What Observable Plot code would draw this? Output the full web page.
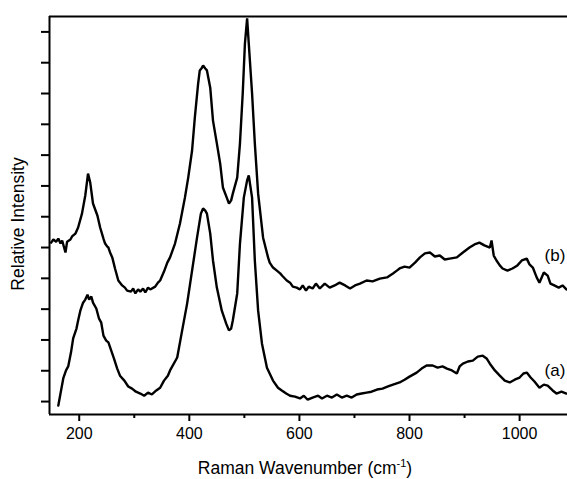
<!DOCTYPE html>
<html>
<head>
<meta charset="utf-8">
<script src="https://cdn.jsdelivr.net/npm/d3@7"></script>
<script src="https://cdn.jsdelivr.net/npm/@observablehq/plot@0.6"></script>
<style>
  html, body { margin: 0; padding: 0; background: #fff; }
  #chart svg { display: block; }
</style>
</head>
<body>
<div id="chart"></div>
<script>
// Raman wavenumber (cm^-1), relative intensity (arbitrary tick units)
const specA = [
  [162,-0.13],[166,0.26],[171,0.75],[176,1.01],[180,1.14],[185,1.59],[189,2.05],[195,2.37],[198,2.63],[202,2.95],
  [207,3.21],[211,3.31],[215,3.47],[218,3.31],[222,3.41],[225,3.21],[231,3.02],[236,2.69],[240,2.56],[244,2.14],
  [249,1.98],[253,1.92],[258,1.66],[263,1.40],[269,1.07],[274,0.84],[282,0.68],[289,0.49],[296,0.42],[303,0.32],
  [311,0.26],[318,0.19],[325,0.29],[332,0.23],[340,0.36],[347,0.45],[354,0.68],[361,0.84],[365,1.01],[378,1.43],
  [387,2.31],[396,3.18],[405,4.25],[414,5.32],[421,6.10],[425,6.27],[429,6.20],[432,6.10],[438,5.45],[443,4.58],
  [450,3.70],[459,2.95],[467,2.53],[472,2.31],[476,2.37],[479,2.63],[487,3.51],[492,5.13],[499,6.62],[505,7.18],
  [508,7.34],[514,6.62],[519,4.58],[525,2.95],[532,1.88],[541,1.10],[552,0.68],[561,0.45],[568,0.36],[576,0.26],
  [583,0.19],[592,0.16],[601,0.10],[608,0.19],[615,0.06],[624,0.13],[634,0.19],[641,0.10],[650,0.19],[659,0.13],
  [668,0.23],[677,0.13],[686,0.19],[695,0.13],[704,0.23],[713,0.26],[722,0.29],[731,0.32],[741,0.39],[751,0.42],
  [761,0.49],[770,0.55],[782,0.62],[791,0.71],[800,0.81],[813,0.94],[822,1.07],[831,1.17],[842,1.17],[851,1.10],
  [860,1.14],[868,1.07],[877,1.01],[886,0.91],[891,1.14],[897,1.23],[906,1.30],[915,1.33],[924,1.46],[933,1.49],
  [940,1.40],[946,1.23],[955,1.01],[964,0.84],[973,0.68],[982,0.62],[991,0.71],[1000,0.78],[1007,0.91],[1013,0.94],
  [1020,0.78],[1027,0.65],[1036,0.45],[1044,0.55],[1051,0.52],[1060,0.36],[1067,0.26],[1076,0.32],[1085,0.26]
];
const specB = [
  [149,5.16],[153,5.26],[158,5.19],[162,5.29],[166,5.13],[169,5.23],[175,4.84],[178,5.19],[184,5.26],[187,5.36],
  [193,5.45],[198,5.65],[205,6.10],[211,6.69],[216,7.40],[220,7.11],[225,6.43],[233,6.04],[238,5.65],[244,5.29],
  [247,5.13],[251,5.03],[253,5.00],[256,4.84],[260,4.68],[265,4.32],[271,3.93],[278,3.77],[283,3.70],[287,3.60],
  [294,3.57],[298,3.67],[302,3.51],[307,3.64],[311,3.57],[316,3.67],[320,3.54],[325,3.70],[329,3.64],[338,3.73],
  [343,3.86],[347,3.93],[354,4.22],[360,4.51],[365,4.68],[374,5.13],[383,5.78],[392,6.62],[398,7.27],[405,8.15],
  [410,9.22],[416,10.32],[419,10.75],[423,10.84],[425,10.91],[429,10.81],[432,10.75],[438,10.19],[443,9.12],[450,8.38],
  [456,7.73],[461,6.95],[468,6.62],[472,6.43],[476,6.53],[479,6.75],[487,7.27],[492,8.38],[497,10.0],[501,11.62],
  [505,12.44],[508,11.62],[514,10.0],[519,8.38],[525,6.75],[534,5.32],[543,4.68],[546,4.51],[552,4.35],[559,4.25],
  [565,4.16],[570,4.06],[577,3.93],[583,3.86],[588,3.73],[595,3.70],[601,3.64],[606,3.77],[612,3.60],[617,3.73],
  [624,3.67],[630,3.83],[637,3.67],[646,3.83],[655,3.70],[664,3.77],[673,3.86],[683,3.77],[692,3.67],[701,3.77],
  [710,3.83],[722,3.93],[733,3.90],[746,3.99],[759,4.03],[770,4.16],[777,4.25],[782,4.32],[791,4.38],[800,4.35],
  [810,4.51],[819,4.68],[828,4.81],[837,4.84],[846,4.71],[855,4.74],[864,4.61],[873,4.64],[886,4.68],[897,4.84],
  [909,5.0],[918,5.10],[927,5.16],[936,5.07],[946,5.0],[949,5.23],[953,4.74],[958,4.58],[964,4.42],[969,4.32],
  [978,4.25],[987,4.32],[996,4.42],[1004,4.58],[1013,4.64],[1018,4.45],[1024,4.35],[1031,4.03],[1036,3.86],[1044,4.19],
  [1051,4.09],[1056,3.83],[1063,3.77],[1071,3.70],[1078,3.77],[1085,3.64]
];
const seriesLabels = ["(a)", "(b)"];
const labelPos = [[1083, 1.0], [1083, 4.74]];
const xDomain = [146, 1087];
const yDomain = [-0.42, 12.5];
const xMajorTicks = [200, 400, 600, 800, 1000];
const xMinorTicks = [300, 500, 700, 900];
const yTicks = [0,1,2,3,4,5,6,7,8,9,10,11,12];
const xLabel = "Raman Wavenumber (cm";
const xLabelSup = "-1";
const yLabel = "Relative Intensity";

const toRows = (arr) => arr.map(([wn, v]) => ({wn, v}));
const labelRows = seriesLabels.map((t, i) => ({t, wn: labelPos[i][0], v: labelPos[i][1]}));

const font = "'Liberation Sans', Arial, sans-serif";
const plot = Plot.plot({
  width: 567,
  height: 479,
  marginLeft: 49,
  marginRight: 0,
  marginTop: 16,
  marginBottom: 65,
  style: {fontFamily: font, fontSize: "15px", color: "#000", background: "#fff"},
  x: {domain: xDomain},
  y: {domain: yDomain},
  marks: [
    Plot.axisY({ticks: yTicks, tickSize: 8, tickFormat: () => "", label: null, strokeWidth: 2}),
    Plot.axisX({ticks: xMajorTicks, tickSize: 7, tickPadding: 6, tickFormat: d3.format("d"), label: null, strokeWidth: 2, fontSize: 16}),
    Plot.axisX({ticks: xMinorTicks, tickSize: 4, tickFormat: () => "", label: null, strokeWidth: 2}),
    Plot.ruleX([xDomain[0]], {stroke: "black", strokeWidth: 2}),
    Plot.ruleY([yDomain[0]], {stroke: "black", strokeWidth: 2}),
    Plot.ruleY([yDomain[1]], {stroke: "black", strokeWidth: 2}),
    Plot.line(toRows(specA), {x: "wn", y: "v", stroke: "black", strokeWidth: 2.4, strokeLinejoin: "miter"}),
    Plot.line(toRows(specB), {x: "wn", y: "v", stroke: "black", strokeWidth: 2.4, strokeLinejoin: "miter"}),
    Plot.text(labelRows, {x: "wn", y: "v", text: "t", textAnchor: "end", fontSize: 17, fill: "black"})
  ]
});

const svg = d3.select(plot);
const xl = svg.append("text")
  .attr("x", 305).attr("y", 474)
  .attr("text-anchor", "middle")
  .attr("font-family", font).attr("font-size", 17.5).attr("fill", "black");
xl.append("tspan").text(xLabel);
xl.append("tspan").attr("dy", -7).attr("font-size", 11).text(xLabelSup);
xl.append("tspan").attr("dy", 7).text(")");

svg.append("text")
  .attr("transform", "translate(24,224) rotate(-90)")
  .attr("text-anchor", "middle")
  .attr("font-family", font).attr("font-size", 17.5).attr("fill", "black")
  .text(yLabel);

document.getElementById("chart").appendChild(plot);
</script>
</body>
</html>
